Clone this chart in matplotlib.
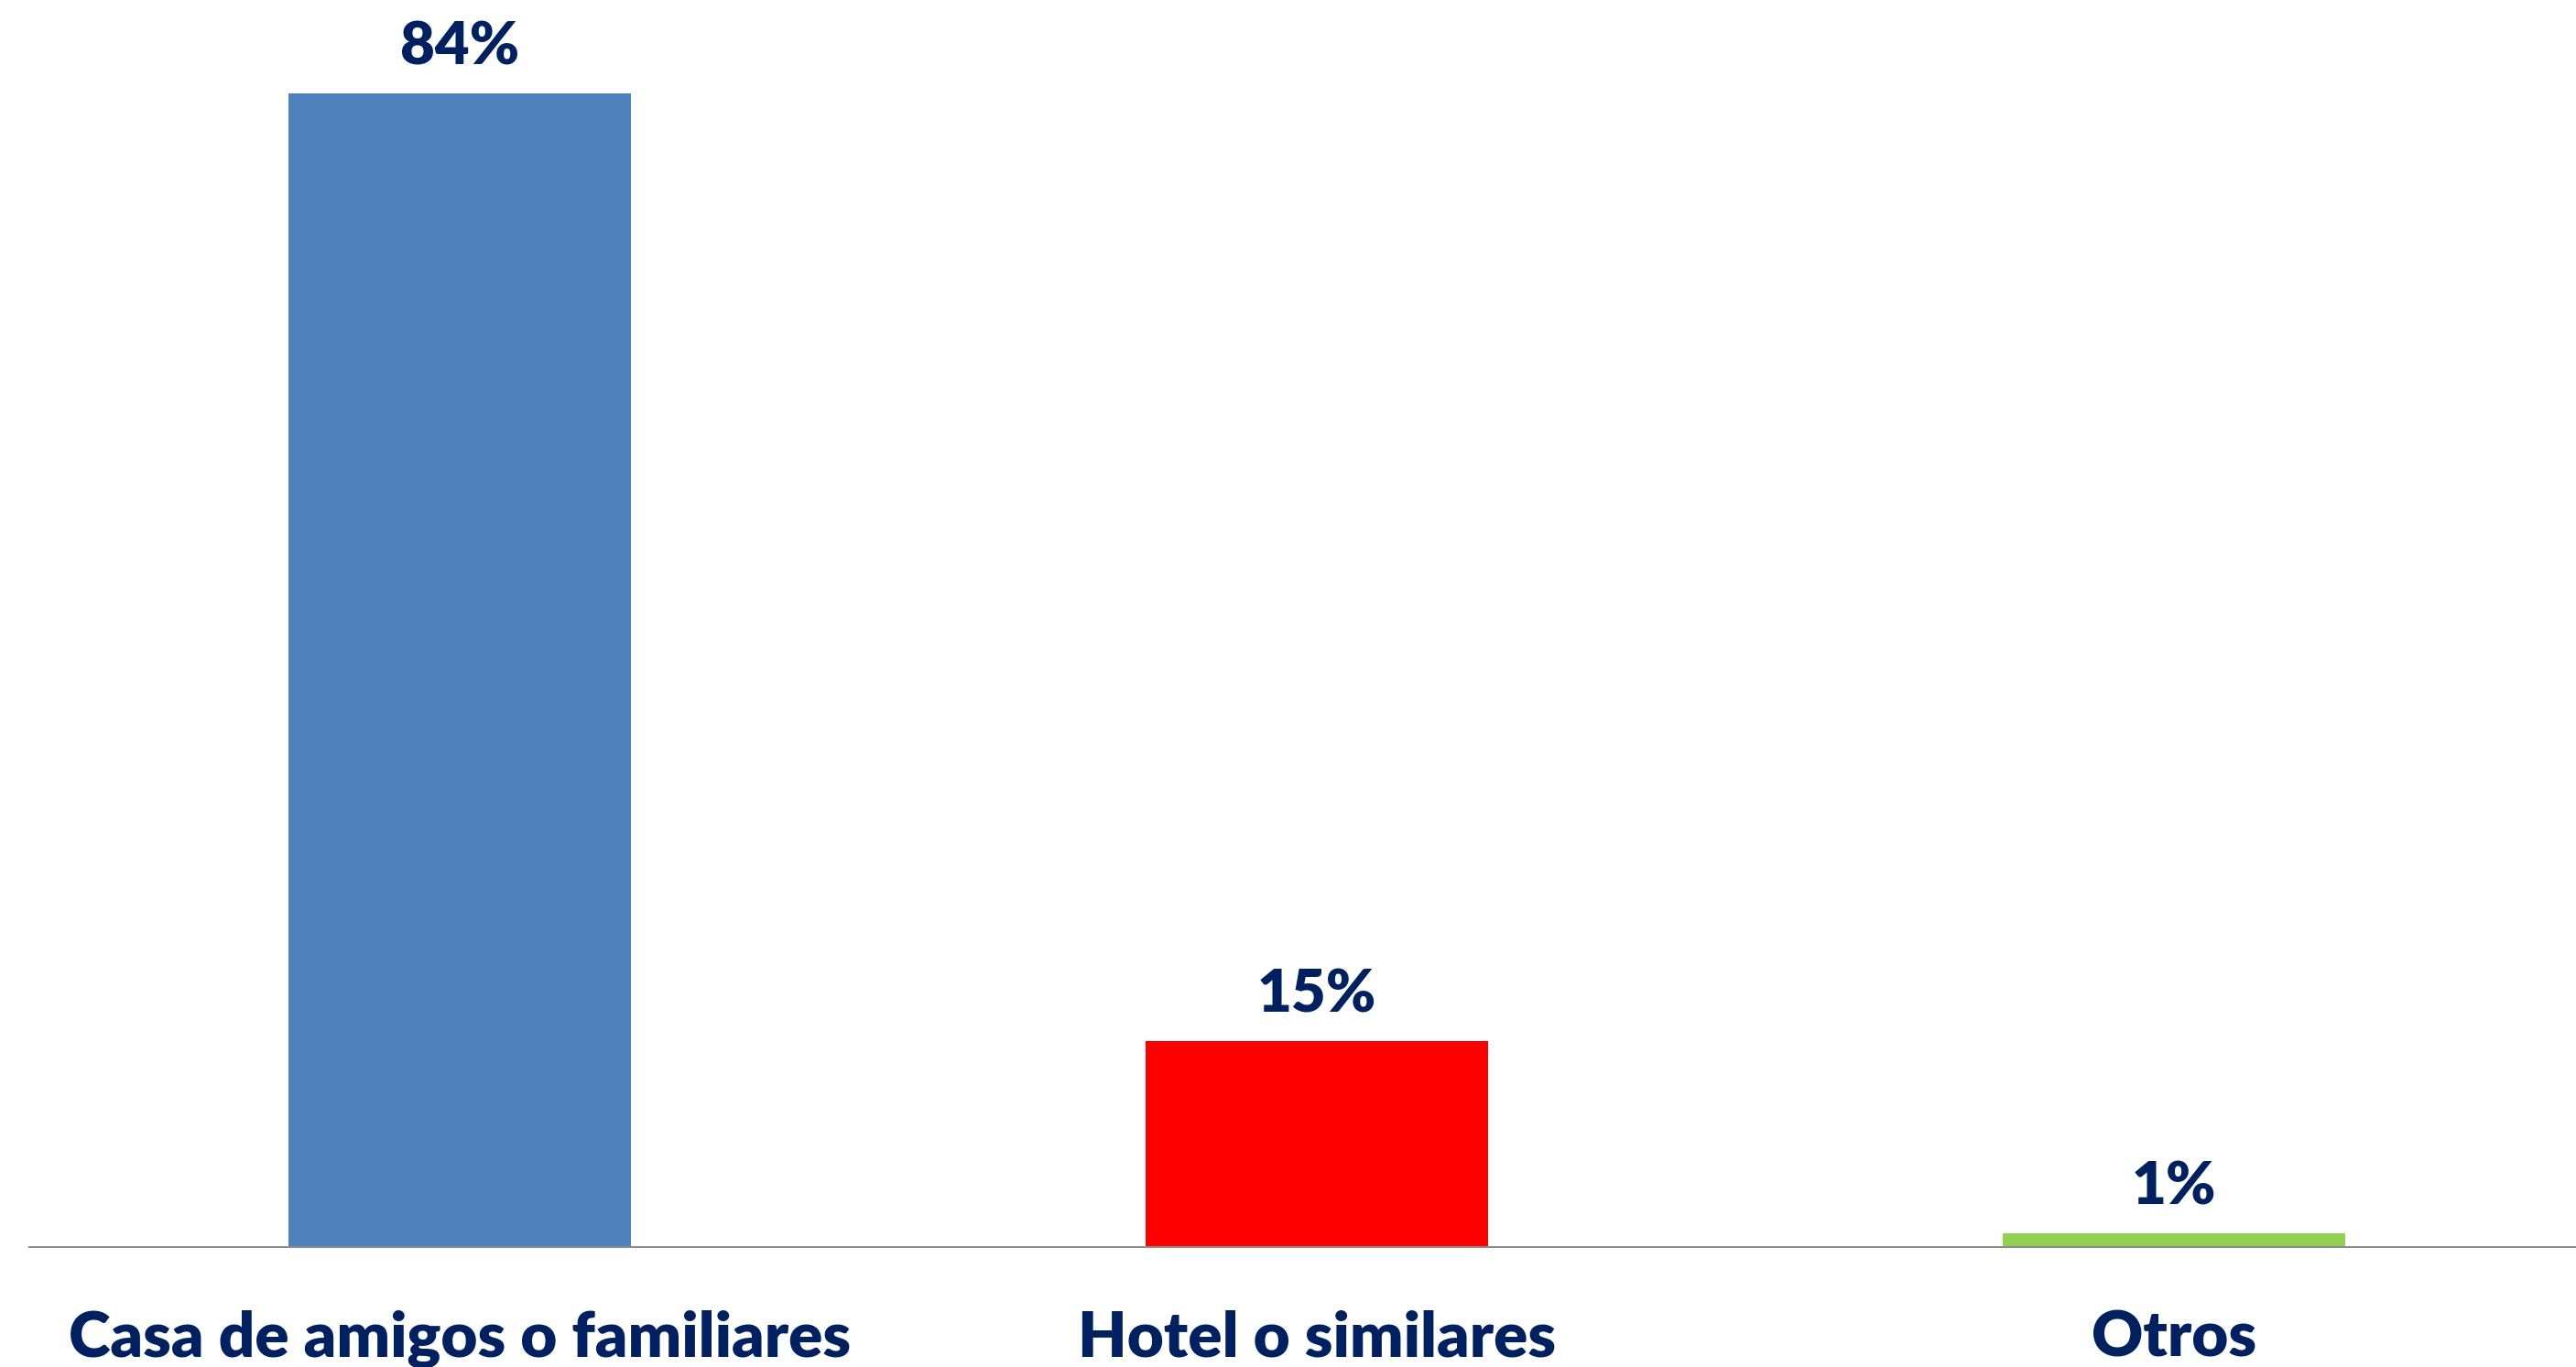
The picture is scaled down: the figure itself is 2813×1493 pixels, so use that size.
import matplotlib
matplotlib.use('Agg')
import matplotlib.pyplot as plt

# datos
categorias = ['Casa de amigos o familiares', 'Hotel o similares', 'Otros']
valores = [84, 15, 1]
etiquetas = ['84%', '15%', '1%']
colores = ['#4f81bd', '#ff0000', '#92d050']

navy = '#002060'
plt.rcParams['font.family'] = ['Lato', 'DejaVu Sans']

W, H = 2813, 1493
fig = plt.figure(figsize=(W / 100, H / 100), dpi=100)
ax = fig.add_axes([32 / W, 131 / H, 1 - 32 / W, 1350 / H])

x = list(range(len(categorias)))
ax.bar(x, valores, width=0.4, color=colores, zorder=2)

for xi, v, t in zip(x, valores, etiquetas):
    ax.annotate(t, xy=(xi, v), xytext=(0, 31), textcoords='offset pixels',
                ha='center', va='baseline', fontsize=47, fontweight='heavy', color=navy)

ax.set_xlim(-0.502, 2.469)
ax.set_ylim(0, 90)
ax.set_xticks(x)
ax.set_xticklabels(categorias, fontsize=49.8, fontweight='heavy', color=navy, va='baseline')
ax.tick_params(axis='x', length=0, pad=86)
ax.set_yticks([])
for s in ['top', 'left', 'right']:
    ax.spines[s].set_visible(False)
ax.spines['bottom'].set_color('#8c8c8c')
ax.spines['bottom'].set_linewidth(1.5)
ax.spines['bottom'].set_zorder(3)

fig.savefig('out.png', dpi=100)
